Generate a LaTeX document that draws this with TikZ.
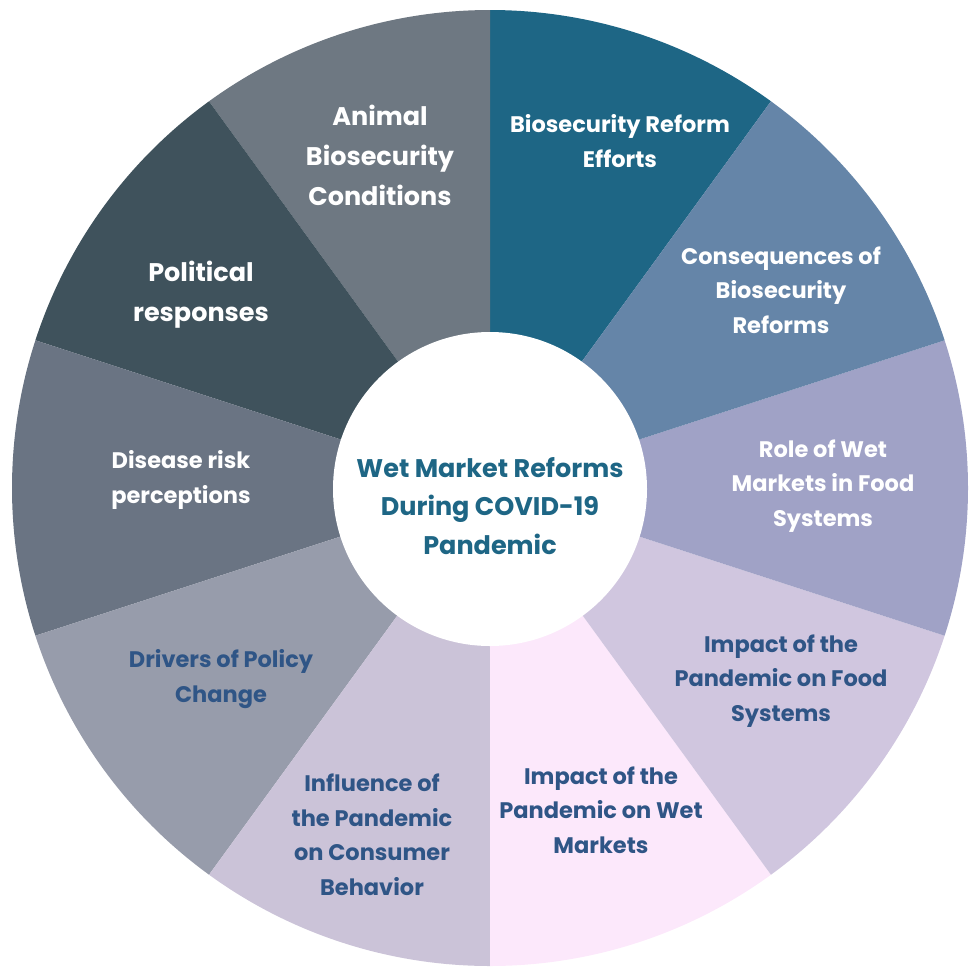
\documentclass[tikz,border=0pt]{standalone}
\usepackage{fontspec}
\setmainfont{Poppins}
\definecolor{cAnimal}{HTML}{6E7882}
\definecolor{cReform}{HTML}{1E6685}
\definecolor{cConseq}{HTML}{6585A8}
\definecolor{cRole}{HTML}{A0A2C6}
\definecolor{cFood}{HTML}{D0C6DF}
\definecolor{cWet}{HTML}{FCE8FB}
\definecolor{cInfl}{HTML}{CBC3D8}
\definecolor{cDriv}{HTML}{979CAB}
\definecolor{cDis}{HTML}{6A7483}
\definecolor{cPol}{HTML}{3F525C}
\definecolor{cText}{HTML}{2F5586}
\begin{document}
\begin{tikzpicture}[x=1pt,y=1pt,
  lab/.style={align=center,font=\bfseries\fontsize{22.5}{34.5}\selectfont,inner sep=0pt},
  labbig/.style={align=center,font=\bfseries\fontsize{25.5}{40}\selectfont,inner sep=0pt},
  wtext/.style={text=white},
  btext/.style={text=cText}]
\useasboundingbox (0,0) rectangle (972,-967);
\coordinate (C) at (490,-488);
\def\R{478}
\foreach \a/\b/\c in {54/90/cReform,90/126/cAnimal,126/162/cPol,162/198/cDis,198/234/cDriv,234/270/cInfl,270/306/cWet,306/342/cFood,342/378/cRole,18/54/cConseq}{
  \fill[\c] (C) -- ++(\a:\R) arc[start angle=\a,end angle=\b,radius=\R] -- cycle;
}
\node[circle,fill=white,minimum size=314pt,inner sep=0pt] (center) at (490,-489) {};
\node[align=center,font=\bfseries\fontsize{25.5}{38.5}\selectfont,text=cReform] (ctext) at (490,-506) {Wet Market Reforms\\During COVID-19\\Pandemic};
\node[labbig,wtext] (animal) at (380,-155) {Animal\\Biosecurity\\Conditions};
\node[lab,wtext] (reform) at (620,-141) {Biosecurity Reform\\Efforts};
\node[lab,wtext] (conseq) at (781,-290) {Consequences of\\Biosecurity\\Reforms};
\node[lab,wtext] (role) at (823,-486) {Role of Wet\\Markets in Food\\Systems};
\node[lab,btext] (food) at (781,-681) {Impact of the\\Pandemic on Food\\Systems};
\node[lab,btext] (wet) at (601,-810) {Impact of the\\Pandemic on Wet\\Markets};
\node[lab,btext] (infl) at (372,-835) {Influence of\\the Pandemic\\on Consumer\\Behavior};
\node[lab,btext] (driv) at (221,-679) {Drivers of Policy\\Change};
\node[lab,wtext] (dis) at (181,-480) {Disease risk\\perceptions};
\node[labbig,wtext] (pol) at (201,-295) {Political\\responses};
\end{tikzpicture}
\end{document}
